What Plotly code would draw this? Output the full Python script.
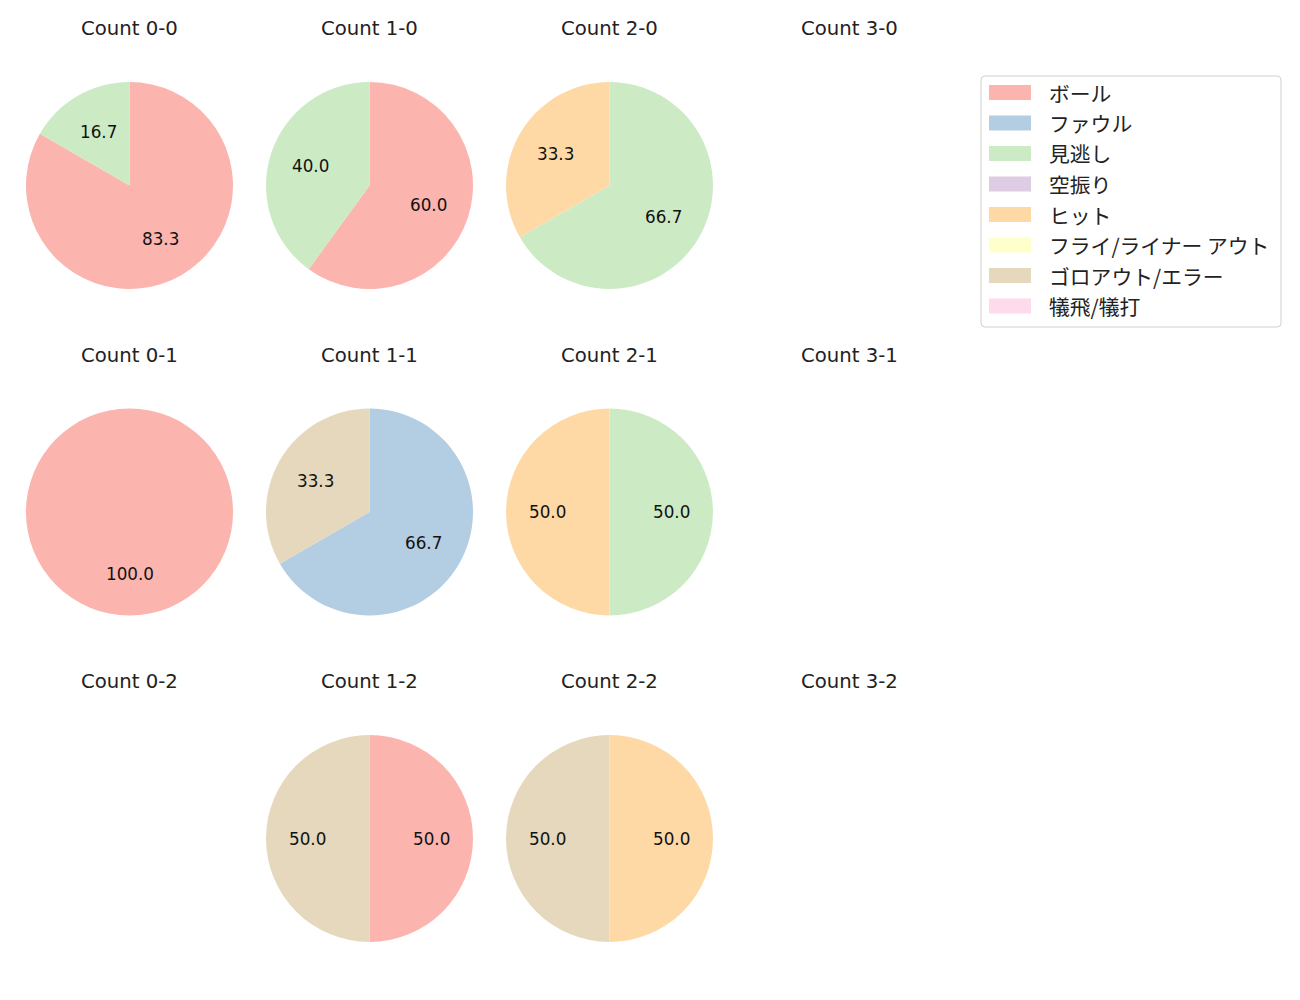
import math
import plotly.graph_objects as go

labels = ["ボール", "ファウル", "見逃し", "空振り", "ヒット",
          "フライ/ライナー アウト", "ゴロアウト/エラー", "犠飛/犠打"]
colors = ["#fbb4ae", "#b3cde3", "#ccebc5", "#decbe4",
          "#fed9a6", "#ffffcc", "#e5d8bd", "#fddaec"]

# pitch results per count (balls-strikes), same order as labels
count_0_0 = [5, 0, 1, 0, 0, 0, 0, 0]
count_1_0 = [3, 0, 2, 0, 0, 0, 0, 0]
count_2_0 = [0, 0, 2, 0, 1, 0, 0, 0]
count_3_0 = [0, 0, 0, 0, 0, 0, 0, 0]
count_0_1 = [2, 0, 0, 0, 0, 0, 0, 0]
count_1_1 = [0, 2, 0, 0, 0, 0, 1, 0]
count_2_1 = [0, 0, 1, 0, 1, 0, 0, 0]
count_3_1 = [0, 0, 0, 0, 0, 0, 0, 0]
count_0_2 = [0, 0, 0, 0, 0, 0, 0, 0]
count_1_2 = [1, 0, 0, 0, 0, 0, 1, 0]
count_2_2 = [0, 0, 0, 0, 1, 0, 1, 0]
count_3_2 = [0, 0, 0, 0, 0, 0, 0, 0]

grid = [
    [("Count 0-0", count_0_0), ("Count 1-0", count_1_0), ("Count 2-0", count_2_0), ("Count 3-0", count_3_0)],
    [("Count 0-1", count_0_1), ("Count 1-1", count_1_1), ("Count 2-1", count_2_1), ("Count 3-1", count_3_1)],
    [("Count 0-2", count_0_2), ("Count 1-2", count_1_2), ("Count 2-2", count_2_2), ("Count 3-2", count_3_2)],
]

W, H = 1300, 1000
OFF = 8  # page body margin
LATIN = "DejaVu Sans, Noto Sans CJK JP"
CJK = "Noto Sans CJK JP"
col_x = [129.5, 369.5, 609.5, 849.5]
row_y = [185.5, 512, 838.5]
R = 103.5


def px_x(x):
    return (x - OFF) / W


def px_y(y):
    return 1 - (y - OFF) / H


fig = go.Figure()
annotations = []
shapes = []

for i, row in enumerate(grid):
    for j, (title, vals) in enumerate(row):
        cx, cy = col_x[j], row_y[i]
        annotations.append(dict(x=px_x(cx), y=px_y(cy - 157), xref="paper", yref="paper",
                                text=title, showarrow=False, xanchor="center", yanchor="middle",
                                font=dict(family=LATIN, size=19.7, color="#222")))
        total = sum(vals)
        if total == 0:
            continue
        idx = [k for k, v in enumerate(vals) if v > 0]
        fig.add_trace(go.Pie(
            labels=[labels[k] for k in idx],
            values=[vals[k] for k in idx],
            marker=dict(colors=[colors[k] for k in idx], line=dict(width=0)),
            sort=False, direction="clockwise", rotation=0,
            textinfo="none", hoverinfo="label+percent", showlegend=False,
            domain=dict(x=[px_x(cx - R), px_x(cx + R)], y=[px_y(cy + R), px_y(cy - R)]),
        ))
        cum = 0
        for k in idx:
            frac = vals[k] / total
            mid = (cum + frac / 2) * 2 * math.pi
            cum += frac
            lx = cx + 0.6 * R * math.sin(mid)
            ly = cy - 0.6 * R * math.cos(mid)
            annotations.append(dict(x=px_x(lx), y=px_y(ly), xref="paper", yref="paper",
                                    text="%.1f" % (100 * frac), showarrow=False,
                                    xanchor="center", yanchor="middle",
                                    font=dict(family=LATIN, size=16.8, color="#111")))

# legend box with rounded corners
x0, x1, y0, y1, rr = px_x(981), px_x(1281), px_y(327), px_y(76), 4
rx, ry = rr / W, rr / H
path = (f"M {x0 + rx},{y1} L {x1 - rx},{y1} Q {x1},{y1} {x1},{y1 - ry} "
        f"L {x1},{y0 + ry} Q {x1},{y0} {x1 - rx},{y0} L {x0 + rx},{y0} "
        f"Q {x0},{y0} {x0},{y0 + ry} L {x0},{y1 - ry} Q {x0},{y1} {x0 + rx},{y1} Z")
shapes.append(dict(type="path", xref="paper", yref="paper", path=path,
                   line=dict(color="#d0d0d0", width=1), fillcolor="white", layer="below"))
for k, (lab, col) in enumerate(zip(labels, colors)):
    yc = 92.5 + k * 30.5
    shapes.append(dict(type="rect", xref="paper", yref="paper",
                       x0=px_x(989), x1=px_x(1031), y0=px_y(yc + 7.5), y1=px_y(yc - 7.5),
                       line=dict(width=0), fillcolor=col))
    annotations.append(dict(x=px_x(1047), y=px_y(yc), xref="paper", yref="paper",
                            text=lab, showarrow=False, xanchor="left", yanchor="middle",
                            font=dict(family=CJK, size=20.8, color="#222")))

fig.update_layout(width=W, height=H, margin=dict(l=0, r=0, t=0, b=0),
                  paper_bgcolor="white", plot_bgcolor="white",
                  annotations=annotations, shapes=shapes)

fig.write_html("out.html")
